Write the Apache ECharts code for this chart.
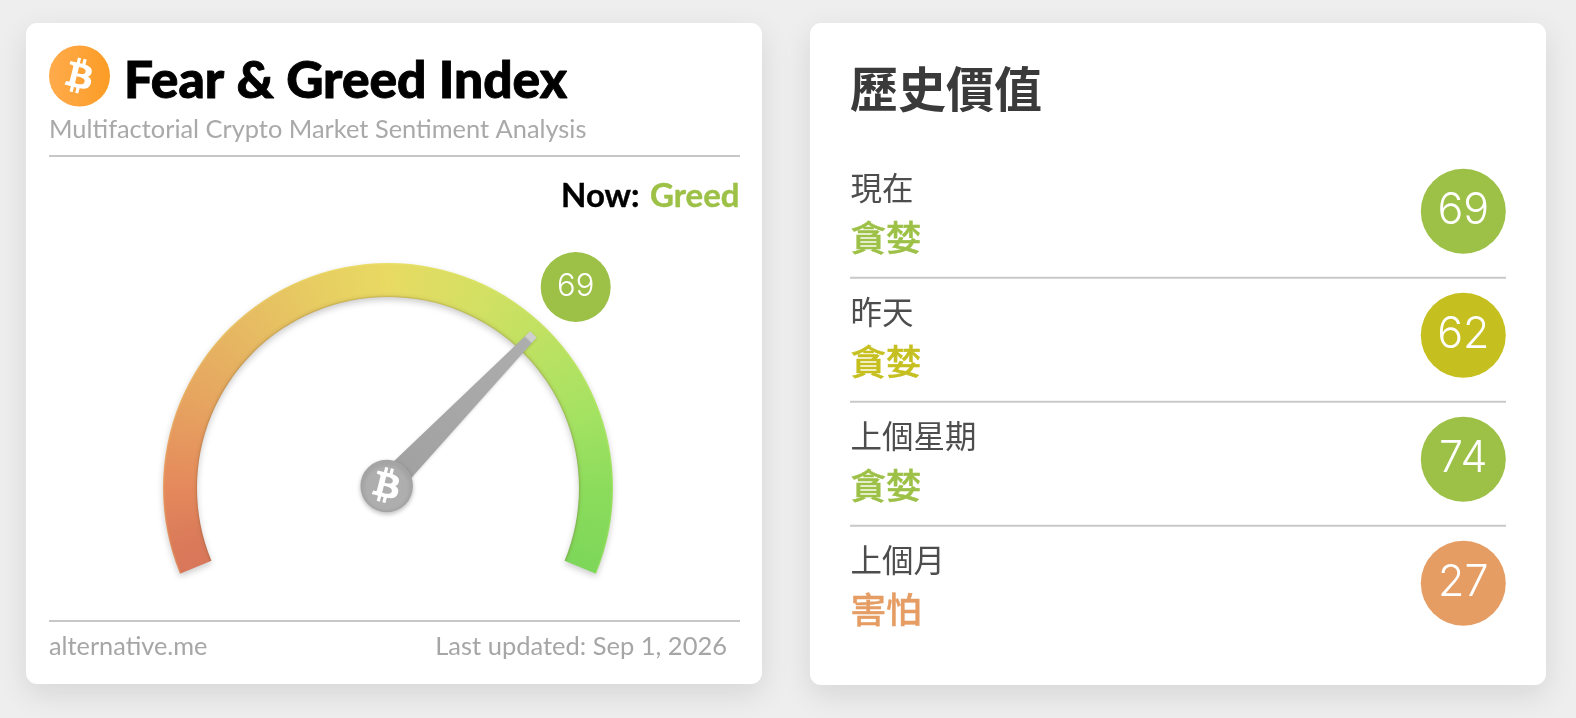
<!DOCTYPE html>
<html><head><meta charset="utf-8">
<style>html,body{margin:0;padding:0;background:#eeeeee}#c{width:1576px;height:718px}</style>
<script src="https://cdn.jsdelivr.net/npm/echarts@6/dist/echarts.min.js"></script>
</head><body><div id="c"></div>
<script>
const gaugeValue = 69;
const gaugeState = 'Greed';
const historyLabels = ['現在', '昨天', '上個星期', '上個月'];
const historyClasses = ['貪婪', '貪婪', '貪婪', '害怕'];
const historyValues = [69, 62, 74, 27];
const historyColors = ['#9dc047', '#c5bf20', '#9dc047', '#e59d64'];

const LATO = 'Lato, sans-serif';
const CJK = '"Noto Sans CJK TC", sans-serif';
const DIGITS = 'Inter';
const B_PATH = 'M504 256m-141.651-35.33c4.937-32.999-20.191-50.739-54.55-62.573l11.146-44.702-27.213-6.781-10.851 43.524c-7.154-1.783-14.502-3.464-21.803-5.13l10.929-43.81-27.198-6.781-11.153 44.686c-5.922-1.349-11.735-2.682-17.377-4.084l.031-.14-37.53-9.37-7.239 29.062s20.191 4.627 19.765 4.913c11.022 2.751 13.014 10.044 12.68 15.825l-12.696 50.925c.76.194 1.744.473 2.829.907-.907-.225-1.876-.473-2.876-.713l-17.796 71.338c-1.349 3.348-4.767 8.37-12.471 6.464.271.395-19.78-4.937-19.78-4.937l-13.51 31.147 35.414 8.827c6.588 1.651 13.045 3.379 19.4 5.006l-11.262 45.213 27.182 6.781 11.153-44.733a1038.209 1038.209 0 0 0 21.687 5.627l-11.115 44.523 27.213 6.781 11.262-45.128c46.404 8.781 81.299 5.239 95.986-36.727 11.836-33.79-.589-53.281-25.004-65.991 17.78-4.098 31.174-15.792 34.747-39.949zm-62.177 87.179c-8.41 33.79-65.308 15.523-83.755 10.943l14.944-59.899c18.446 4.603 77.6 13.717 68.811 48.956zm8.417-87.667c-7.673 30.736-55.031 15.12-70.393 11.292l13.548-54.327c15.363 3.828 64.836 10.973 56.845 43.035z';
echarts.graphic.registerShape('btcGlyph', echarts.graphic.extendPath(B_PATH, {}));

const ARC = {cx: 388, cy: 488, r: 225, w: 34};

function arcTexture() {
  const cv = document.createElement('canvas');
  cv.width = 1576; cv.height = 718;
  const g = cv.getContext('2d');
  const cg = g.createConicGradient(Math.PI / 2, ARC.cx, ARC.cy);
  const stop = (deg, col) => cg.addColorStop((deg - 90) / 360, col);
  stop(150, '#d8735a'); stop(165, '#da7a5a'); stop(180, '#e5895c'); stop(205, '#e6a560');
  stop(225, '#e6b762'); stop(250, '#e7cd62'); stop(270, '#e8da63'); stop(295, '#d4e063');
  stop(315, '#bfe162'); stop(340, '#a4e262'); stop(360, '#8cdc5c'); stop(390, '#78d558');
  g.fillStyle = cg;
  g.fillRect(0, 0, 1576, 718);
  const rim = g.createRadialGradient(ARC.cx, ARC.cy, ARC.r - ARC.w, ARC.cx, ARC.cy, ARC.r);
  rim.addColorStop(0, 'rgba(110,80,30,.28)');
  rim.addColorStop(0.06, 'rgba(110,80,30,.05)');
  rim.addColorStop(0.15, 'rgba(110,80,30,0)');
  rim.addColorStop(0.94, 'rgba(255,255,120,0)');
  rim.addColorStop(1, 'rgba(255,255,120,.2)');
  g.fillStyle = rim;
  g.fillRect(0, 0, 1576, 718);
  return cv;
}

const card = (x, y, w, h) => ({
  type: 'rect', z: -10,
  shape: {x, y, width: w, height: h, r: 11},
  style: {fill: '#fff', shadowBlur: 30, shadowOffsetY: 10, shadowColor: 'rgba(0,0,0,.10)'}
});
const rule = (x1, x2, y, col, lw) => ({
  type: 'line', z: -5, shape: {x1, y1: y, x2, y2: y}, style: {stroke: col, lineWidth: lw}
});
const txt = (text, x, y, font, fill, align, strokeW) => ({
  type: 'text', z: 50,
  style: Object.assign({text, x, y, font, fill, align: align || 'left', verticalAlign: 'middle'},
    strokeW ? {stroke: fill, lineWidth: strokeW} : {})
});
const logo = (cx, cy, s, fill) => ({
  type: 'btcGlyph', z: 60, x: cx - 256 * s, y: cy - 256 * s, scaleX: s, scaleY: s,
  style: {fill}
});

const graphics = [
  card(26, 23, 736, 661),
  card(810, 23, 736, 662),
  {type: 'circle', z: 40, shape: {cx: 79.5, cy: 76, r: 30.5},
   style: {fill: {type: 'linear', x: 0, y: 0, x2: 1, y2: 0,
     colorStops: [{offset: 0, color: '#ffab4c'}, {offset: 1, color: '#fb9c25'}]}}},
  logo(79.5, 76, 0.115, '#fff'),
  logo(386.7, 485.5, 0.115, '#fff'),
  txt('Fear & Greed Index', 124, 81, '900 51.5px ' + LATO, '#000', 'left', 0.9),
  txt('Multifactorial Crypto Market Sentiment Analysis', 49, 130, '400 25.4px ' + LATO, '#a9a9a9'),
  rule(49, 740, 156, '#b5b5b5', 1.5),
  txt('Now:', 561, 196, '700 33px ' + LATO, '#000', 'left', 0.4),
  txt(gaugeState, 739.5, 196, '700 33px ' + LATO, historyColors[0], 'right', 0.4),
  rule(49, 740, 621, '#b5b5b5', 1.5),
  txt('alternative.me', 49, 647, '400 25.3px ' + LATO, '#a6a6a6'),
  txt('Last updated: Sep 1, 2026', 727, 647, '400 25.5px ' + LATO, '#a6a6a6', 'right'),
  txt('歷史價值', 850, 89, '700 48px ' + CJK, '#3a3a3a')
];
historyLabels.forEach((label, i) => {
  const dy = 124 * i;
  graphics.push(txt(label, 850.5, 188 + dy, '400 31.5px ' + CJK, '#4d4d4d'));
  graphics.push(txt(historyClasses[i], 850.5, 238 + dy, '500 35.5px ' + CJK, historyColors[i], 'left', 0.4));
  if (i < historyLabels.length - 1) graphics.push(rule(850, 1506, 277.7 + dy, '#c9c9c9', 2));
});

const chart = echarts.init(document.getElementById('c'), null, {renderer: 'canvas', width: 1576, height: 718});
chart.setOption({
  animation: false,
  backgroundColor: '#eeeeee',
  grid: {left: 1363.3, width: 200, top: 149.2, height: 496},
  xAxis: {type: 'value', min: -1, max: 1, show: false},
  yAxis: {type: 'category', inverse: true, show: false, data: historyLabels},
  graphic: graphics,
  series: [
    {
      type: 'gauge', name: 'arc', z: 2, silent: true,
      center: [ARC.cx, ARC.cy], radius: ARC.r, min: 0, max: 100,
      startAngle: 202.4, endAngle: -22.4,
      axisLine: {lineStyle: {width: ARC.w,
        color: [[1, {image: arcTexture(), repeat: 'no-repeat'}]],
        shadowBlur: 6, shadowOffsetY: 3, shadowColor: 'rgba(0,0,0,.2)'}},
      axisTick: {show: false}, splitLine: {show: false}, axisLabel: {show: false},
      pointer: {show: false}, anchor: {show: false}, title: {show: false},
      detail: {show: true, formatter: '{value}', color: '#fff',
        fontFamily: DIGITS, fontWeight: 300, fontSize: 31, padding: 0,
        width: 70, height: 70, lineHeight: 70, borderRadius: 35,
        backgroundColor: historyColors[0], offsetCenter: [187.7, -201]},
      data: [{value: gaugeValue}]
    },
    {
      type: 'gauge', name: 'needle', z: 3, silent: true,
      center: [386.7, 486], radius: 212, min: 0, max: 100,
      startAngle: 200.5, endAngle: -23.5,
      axisLine: {show: false}, axisTick: {show: false}, splitLine: {show: false}, axisLabel: {show: false},
      progress: {show: false}, title: {show: false}, detail: {show: false},
      pointer: {show: true, width: 26, length: 211,
        icon: 'path://M33,0 L67,0 L100,100 L0,100 Z',
        itemStyle: {
          color: {type: 'linear', x: 0, y: 0, x2: 0, y2: 1, colorStops: [
            {offset: 0, color: '#cfcfcf'}, {offset: 0.03, color: '#cfcfcf'},
            {offset: 0.04, color: '#adadad'}, {offset: 1, color: '#a0a0a0'}]},
          shadowBlur: 3, shadowColor: 'rgba(0,0,0,.15)', shadowOffsetY: 1}},
      anchor: {show: true, showAbove: true, size: 51, icon: 'circle',
        itemStyle: {color: '#aeaeae', borderWidth: 1.5, borderColor: '#a4a4a4',
          shadowBlur: 4, shadowColor: 'rgba(0,0,0,.22)', shadowOffsetY: 2}},
      data: [{value: gaugeValue}]
    },
    {
      type: 'scatter', name: 'history', z: 5, silent: true,
      symbol: 'circle', symbolSize: 85,
      data: historyValues.map((v, i) => ({
        value: [0, historyLabels[i], v],
        itemStyle: {color: historyColors[i], opacity: 1},
        label: {show: true, position: 'inside', formatter: String(v), color: '#fff',
          fontFamily: DIGITS, fontWeight: 300, fontSize: 43}
      })),
      encode: {x: 0, y: 1}
    }
  ]
});
</script></body></html>
